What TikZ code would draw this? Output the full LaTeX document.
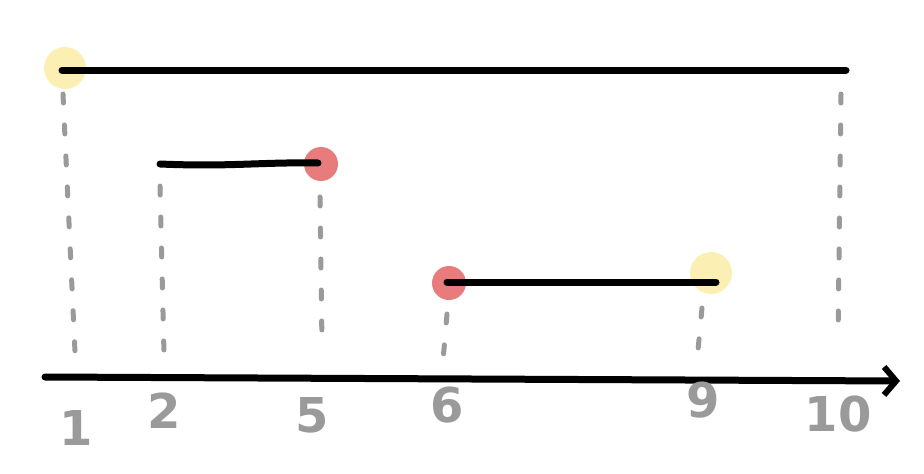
\documentclass[tikz,border=0pt]{standalone}
\usepackage{fontspec}
\newfontfamily\numfont{DejaVu Sans}
\usetikzlibrary{arrows.meta}
\definecolor{hlyellow}{HTML}{FCEFB4}
\definecolor{hlred}{HTML}{E87C7C}
\definecolor{dashgray}{HTML}{9A9A9A}
\tikzset{
  seg/.style={line width=7pt, line cap=round, black},
  guide/.style={line width=5pt, line cap=round, dashgray, dash pattern=on 9pt off 22pt},
  yellowdot/.style={circle, fill=hlyellow, minimum size=42pt, inner sep=0pt},
  reddot/.style={circle, fill=hlred, minimum size=34pt, inner sep=0pt},
  numlabel/.style={text=dashgray, font=\numfont\bfseries\fontsize{48}{48}\selectfont, inner sep=0pt},
}
\begin{document}
\begin{tikzpicture}[x=1pt,y=-1pt]
\useasboundingbox (0,0) rectangle (924,474);
% highlight dots
\node[yellowdot] (y1) at (65,68) {};
\node[reddot] (r5) at (321,164) {};
\node[reddot] (r6) at (449,283) {};
\node[yellowdot] (y9) at (711,273) {};
% segment end points
\coordinate (a1) at (62,70);
\coordinate (a10) at (846,70);
\coordinate (b2) at (160,164);
\coordinate (b5) at (318,163);
\coordinate (c6) at (447,282);
\coordinate (c9) at (716,282);
% guides
\coordinate (g1t) at (63,94);  \coordinate (g1b) at (75,352);
\coordinate (g2t) at (160,186); \coordinate (g2b) at (164,354);
\coordinate (g5t) at (320,197); \coordinate (g5b) at (322,345);
\coordinate (g6t) at (447,314); \coordinate (g6b) at (442,372);
\coordinate (g9t) at (702,308); \coordinate (g9b) at (698,350);
\coordinate (g10t) at (841,94); \coordinate (g10b) at (838,340);
\draw[guide] (g1t) -- (g1b);
\draw[guide] (g2t) -- (g2b);
\draw[guide] (g5t) -- (g5b);
\draw[guide] (g6t) -- (g6b);
\draw[guide] (g9t) -- (g9b);
\draw[guide] (g10t) -- (g10b);
% segments
\draw[seg] (a1) -- (a10);
\draw[seg] (b2) .. controls (230,167) and (260,162) .. (b5);
\draw[seg] (c6) -- (c9);
% axis
\coordinate (ax0) at (45,377);
\coordinate (ax1) at (900,381);
\draw[seg, -{Straight Barb[length=12pt,width=28pt,line width=6pt]}] (ax0) -- (ax1);
% labels
\node[numlabel] (l1) at (76,428) {1};
\node[numlabel] (l2) at (164,411) {2};
\node[numlabel] (l5) at (312,415) {5};
\node[numlabel] (l6) at (447,405) {6};
\node[numlabel] (l9) at (703,400) {9};
\node[numlabel] (l10) at (838,414) {10};
\end{tikzpicture}
\end{document}
